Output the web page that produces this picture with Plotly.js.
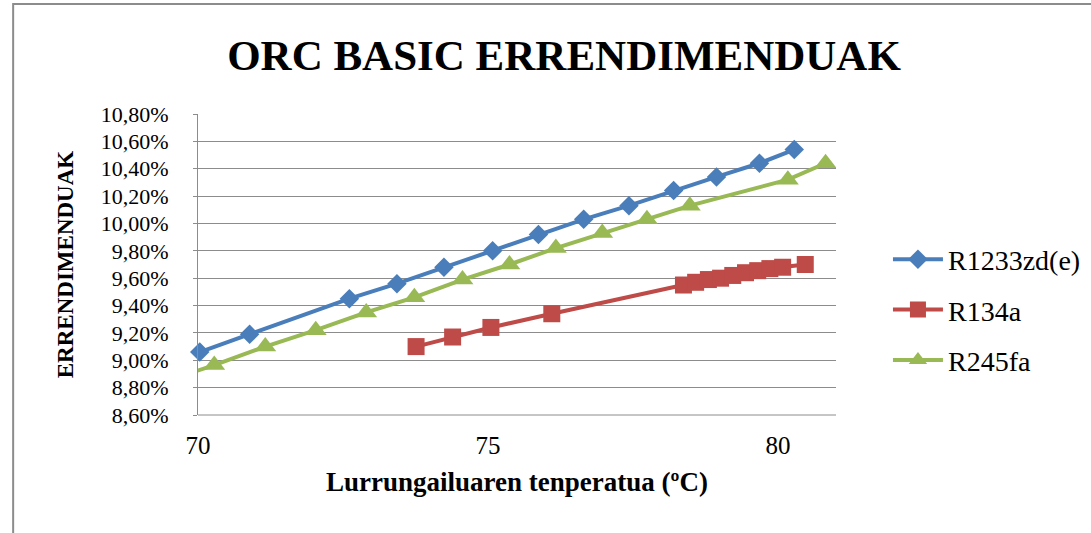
<!DOCTYPE html>
<html>
<head>
<meta charset="utf-8">
<script src="https://cdn.plot.ly/plotly-3.0.1.min.js"></script>
<style>html,body{margin:0;padding:0;background:#fff;}#chart{width:1091px;height:533px;}</style>
</head>
<body>
<div id="chart"></div>
<script>
// Data
const seriesNames = ["R1233zd(e)", "R134a", "R245fa"];

const tempR1233 = [70.03, 70.89, 72.61, 73.43, 74.24, 75.08, 75.87, 76.65, 77.43, 78.20, 78.94, 79.68, 80.28];
const effR1233  = [9.06, 9.19, 9.45, 9.56, 9.68, 9.80, 9.92, 10.03, 10.13, 10.24, 10.34, 10.44, 10.54];

const tempR134a = [73.76, 74.39, 75.05, 76.10, 78.37, 78.58, 78.80, 79.01, 79.22, 79.44, 79.65, 79.86, 80.08, 80.47];
const effR134a  = [9.10, 9.17, 9.24, 9.34, 9.55, 9.57, 9.59, 9.60, 9.62, 9.64, 9.655, 9.67, 9.68, 9.70];

const tempR245 = [69.40, 70.28, 71.16, 72.03, 72.90, 73.73, 74.56, 75.37, 76.17, 76.97, 77.74, 78.48, 80.17, 80.82];
const effR245  = [8.84, 8.965, 9.10, 9.22, 9.35, 9.46, 9.59, 9.70, 9.82, 9.93, 10.03, 10.13, 10.32, 10.44];

const titleText = "ORC BASIC ERRENDIMENDUAK";
const xTitle = "Lurrungailuaren tenperatua (ºC)";
const yTitle = "ERRENDIMENDUAK";

const FONT = "'Liberation Serif', Cambria, 'DejaVu Serif', serif";

const traces = [
  {x: tempR1233, y: effR1233, name: seriesNames[0], legendgroup: "a", type: "scatter", mode: "lines+markers",
   cliponaxis: false,
   line: {color: "#4a7ebb", width: 4}, marker: {symbol: "diamond", size: 15, color: "#4a7ebb"}},
  {x: tempR134a, y: effR134a, name: seriesNames[1], legendgroup: "b", type: "scatter", mode: "lines+markers",
   cliponaxis: false,
   line: {color: "#be4b48", width: 4}, marker: {symbol: "square", size: 17, color: "#be4b48"}},
  {x: tempR245, y: effR245, name: seriesNames[2], legendgroup: "c", type: "scatter", mode: "lines+markers",
   cliponaxis: true,
   line: {color: "#98b954", width: 4}, marker: {symbol: "triangle-up", size: 19, color: "#98b954"}}
];

const L = 197.5, R = 836, T = 114, B = 415, W = 1091, H = 533;
const px = v => (v - L) / (R - L);
const py = v => (B - v) / (B - T);

const layout = {
  width: W, height: H,
  margin: {l: L, r: W - R, t: T, b: H - B, pad: 0, autoexpand: false},
  paper_bgcolor: "#ffffff", plot_bgcolor: "#ffffff",
  separators: ", ",
  font: {family: FONT, color: "#000000", size: 20},
  title: {text: titleText, font: {family: FONT, size: 43, color: "#000", weight: "bold"},
          xref: "container", yref: "container", x: 564 / W, xanchor: "center", y: 1 - 55 / H, yanchor: "middle"},
  xaxis: {
    range: [70, 81], dtick: 5, tick0: 70, showgrid: false, zeroline: false,
    showline: false, ticks: "", ticklabelstandoff: 13,
    tickfont: {family: FONT, size: 25, color: "#000"},
    title: {text: xTitle, font: {family: FONT, size: 27, color: "#000", weight: "bold"}, standoff: 14}
  },
  yaxis: {
    range: [8.6, 10.8], dtick: 0.2, tick0: 8.6, tickformat: ".2f", ticksuffix: "%",
    showgrid: true, gridcolor: "#8c8c8c", gridwidth: 1, zeroline: false,
    showline: true, linecolor: "#8c8c8c", linewidth: 1,
    ticks: "outside", ticklen: 4, tickcolor: "#8c8c8c", ticklabelstandoff: 20,
    tickfont: {family: FONT, size: 22, color: "#000"},
    title: {text: yTitle, font: {family: FONT, size: 23, color: "#000", weight: "bold"}, standoff: 20}
  },
  showlegend: true,
  legend: {x: px(888), xanchor: "left", y: py(310), yanchor: "middle",
           font: {family: FONT, size: 28, color: "#000"}, tracegroupgap: 11,
           bgcolor: "rgba(0,0,0,0)", itemwidth: 50},
  shapes: [
    {type: "line", xref: "paper", yref: "paper", x0: 0, x1: 1, y0: 0, y1: 0, line: {color: "#8c8c8c", width: 1}},
    {type: "rect", xref: "paper", yref: "paper", x0: px(12.5), x1: px(1100), y0: py(4), y1: py(545),
     line: {color: "#8c8c8c", width: 2}, fillcolor: "rgba(0,0,0,0)", layer: "below"}
  ]
};

Plotly.newPlot("chart", traces, layout, {displayModeBar: false, staticPlot: true});
</script>
</body>
</html>
